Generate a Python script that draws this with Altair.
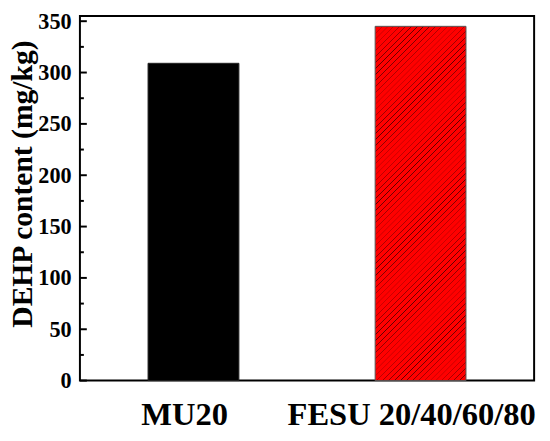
import altair as alt
import pandas as pd

# ---- data ----
categories = ["MU20", "FESU 20/40/60/80"]
values = [309, 345]
major_ticks = [0, 50, 100, 150, 200, 250, 300, 350]
minor_ticks = [25, 75, 125, 175, 225, 275, 325]

df = pd.DataFrame({"cat": categories, "val": values})
df_major = pd.DataFrame({"t": major_ticks})
df_minor = pd.DataFrame({"t": minor_ticks})

# ---- layout ----
W, H = 461, 370
YMAX = 355
FONT = "Liberation Serif"

# hatch gradient for the red bar (diagonal "/" stripes, 45 deg on screen,
# period exactly 6 px along x+y so every stripe samples identically)
band = W / 2 * 0.4
bar_h = values[1] / YMAX * H
r = band / bar_h
period_px = 6.0
n = int((band + bar_h) / period_px) + 1
span = n * period_px
k = span / (bar_h * (1 + r ** 2))
p = 1.0 / n
stops = [alt.GradientStop(offset=0, color="#ff0000")]
for i in range(n):
    o = i * p
    stops.append(alt.GradientStop(offset=o + 0.10 * p, color="#ff0000"))
    stops.append(alt.GradientStop(offset=o + 0.20 * p, color="#5a0000"))
    stops.append(alt.GradientStop(offset=o + 0.30 * p, color="#ff0000"))
stops.append(alt.GradientStop(offset=1.0, color="#ff0000"))
hatch = alt.LinearGradient(gradient="linear", stops=stops,
                           x1=0, y1=0, x2=k * r, y2=k)

xenc = alt.X("cat:N", sort=categories, title=None,
             scale=alt.Scale(paddingInner=0.6, paddingOuter=0.3),
             axis=alt.Axis(labelAngle=0, labelFont=FONT, labelFontWeight="bold",
                           labelFontSize=33, labelColor="black", labelPadding=19,
                           labelOffset=-9, labelLimit=0, ticks=False, domain=False,
                           tickSize=0))
yenc = alt.Y("val:Q", title="DEHP content (mg/kg)",
             scale=alt.Scale(domain=[0, YMAX], nice=False, zero=True),
             axis=alt.Axis(values=major_ticks, labelFont=FONT, labelFontWeight="bold",
                           labelFontSize=22.5, labelColor="black", labelPadding=9,
                           ticks=False, tickSize=0, domain=False, grid=False,
                           titleFont=FONT, titleFontWeight="bold", titleFontSize=30,
                           titleColor="black", titlePadding=0, titleY=170))

base = alt.Chart(df)
bar_black = base.transform_filter(alt.datum.cat == categories[0]).mark_bar(
    fill="black", stroke="#222222", strokeWidth=1).encode(x=xenc, y=yenc)
bar_red = base.transform_filter(alt.datum.cat == categories[1]).mark_bar(
    fill=hatch, stroke="#555555", strokeWidth=1).encode(x=xenc, y=yenc)

ticks_major = alt.Chart(df_major).mark_rule(color="black", strokeWidth=2).encode(
    y=alt.Y("t:Q", scale=alt.Scale(domain=[0, YMAX], nice=False)),
    x=alt.value(0), x2=alt.value(7))
ticks_minor = alt.Chart(df_minor).mark_rule(color="black", strokeWidth=2).encode(
    y=alt.Y("t:Q", scale=alt.Scale(domain=[0, YMAX], nice=False)),
    x=alt.value(0), x2=alt.value(4))

chart = alt.layer(bar_black, bar_red, ticks_major, ticks_minor).properties(
    width=W, height=H,
    autosize=alt.AutoSizeParams(type="none"),
    padding={"left": 73, "top": 5, "right": 8, "bottom": 50},
    background="white",
).configure_view(stroke="black", strokeWidth=2)

chart.save("out.html", embed_options={"renderer": "svg", "actions": False})
